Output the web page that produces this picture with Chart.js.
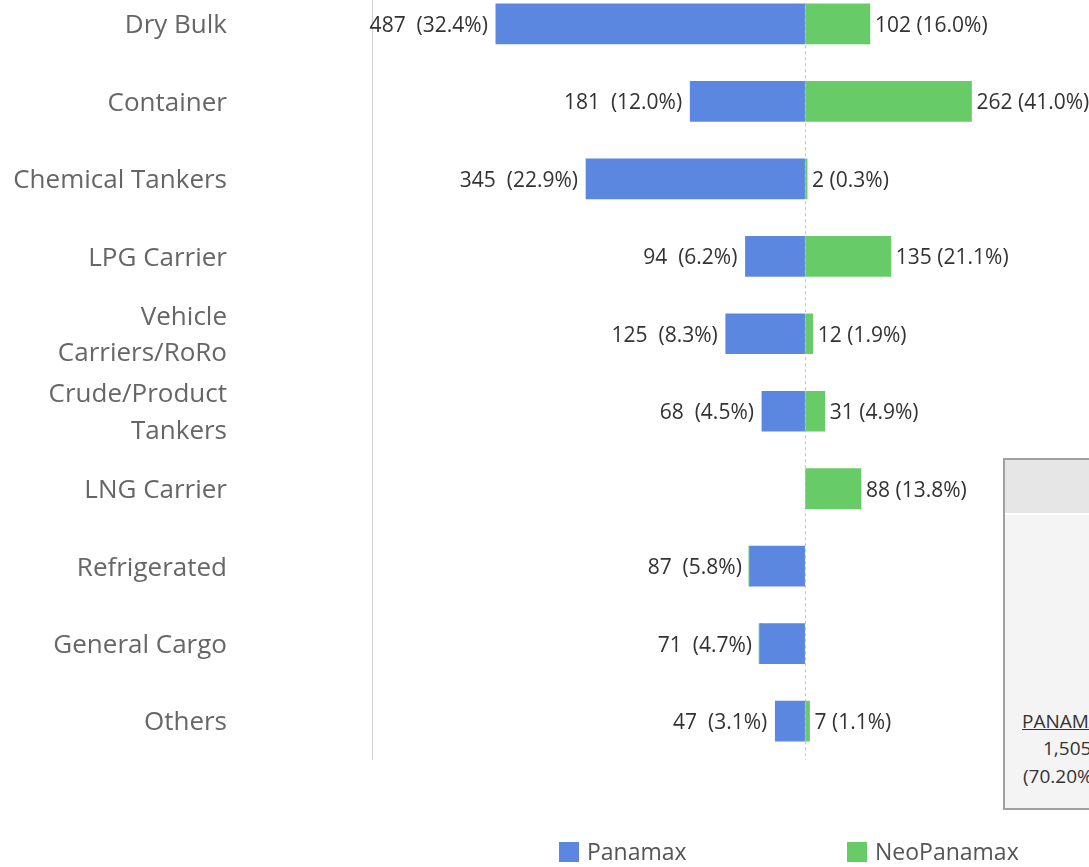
<!DOCTYPE html>
<html>
<head>
<meta charset="utf-8">
<script src="https://cdn.jsdelivr.net/npm/chart.js@4.4.1/dist/chart.umd.min.js"></script>
<style>
  body { margin: 0; width: 1089px; height: 867px; overflow: hidden; background: #fff; position: relative; font-family: "Open Sans", sans-serif; }
  /* the y tick padding is also added above and below the plot, so the canvas is shifted up to compensate */
  #chart { position: absolute; left: 0; top: -178px; }
  .legend { position: absolute; top: 840px; font-size: 23px; color: #555; }
  .legend span.box { position: absolute; top: 2px; width: 20px; height: 20px; }
  .legend span.txt { position: absolute; left: 28px; top: -5px; white-space: nowrap; }
  #panel { position: absolute; left: 1003px; top: 458px; width: 200px; height: 348px; border: 2px solid #a0a0a0; background: #f4f4f4; }
  #panel .head { height: 53px; background: #e6e6e6; border-bottom: 2px solid #fff; }
  #panel div.t { position: absolute; font-size: 19px; color: #333; white-space: nowrap; }
</style>
</head>
<body>
<canvas id="chart" width="1089" height="1101"></canvas>

<div class="legend" style="left:559px"><span class="box" style="background:#5b87e1"></span><span class="txt">Panamax</span></div>
<div class="legend" style="left:847px"><span class="box" style="background:#67cc67"></span><span class="txt">NeoPanamax</span></div>

<div id="panel">
  <div class="head"></div>
  <div class="t" style="left:17px; top:248px; text-decoration: underline;">PANAMAX</div>
  <div class="t" style="left:38px; top:275px;">1,505</div>
  <div class="t" style="left:18px; top:303px;">(70.20%)</div>
</div>

<script>
// categories and values
const categories = ['Dry Bulk', 'Container', 'Chemical Tankers', 'LPG Carrier', ['Vehicle', 'Carriers/RoRo'],
    ['Crude/Product', 'Tankers'], 'LNG Carrier', 'Refrigerated', 'General Cargo', 'Others'];
const panamax = [487, 181, 345, 94, 125, 68, null, 87, 71, 47];
const panamaxPct = [32.4, 12.0, 22.9, 6.2, 8.3, 4.5, null, 5.8, 4.7, 3.1];
const neoPanamax = [102, 262, 2, 135, 12, 31, 88, 0, 0, 7];
const neoPanamaxPct = [16.0, 41.0, 0.3, 21.1, 1.9, 4.9, 13.8, null, null, 1.1];

const blue = '#5b87e1';
const green = '#67cc67';

// Panamax goes to the left, so plot it as negative
const panamaxNeg = panamax.map(v => v === null ? null : -v);

// draws "value (pct%)" next to each bar
const barLabels = {
    id: 'barLabels',
    afterDatasetsDraw(chart) {
        const ctx = chart.ctx;
        ctx.save();
        ctx.font = '21px "Open Sans"';
        ctx.fillStyle = '#333';
        ctx.textBaseline = 'middle';
        chart.getDatasetMeta(0).data.forEach((bar, i) => {
            if (panamaxPct[i] === null) return;
            ctx.textAlign = 'right';
            ctx.fillText(panamax[i] + '  (' + panamaxPct[i].toFixed(1) + '%)', bar.x - 8, bar.y + 2);
        });
        chart.getDatasetMeta(1).data.forEach((bar, i) => {
            if (neoPanamaxPct[i] === null) return;
            ctx.textAlign = 'left';
            ctx.fillText(neoPanamax[i] + ' (' + neoPanamaxPct[i].toFixed(1) + '%)', bar.x + 5, bar.y + 2);
        });
        ctx.restore();
    }
};

const ctx = document.getElementById('chart').getContext('2d');
new Chart(ctx, {
    type: 'bar',
    data: {
        labels: categories,
        datasets: [{
            label: 'Panamax',
            data: panamaxNeg,
            backgroundColor: blue,
            barThickness: 40
        }, {
            label: 'NeoPanamax',
            data: neoPanamax,
            backgroundColor: green,
            barThickness: 40,
            minBarLength: 2
        }]
    },
    options: {
        indexAxis: 'y',
        responsive: false,
        animation: false,
        layout: { padding: 0 },
        scales: {
            x: {
                stacked: true,
                min: -682,
                max: 447,
                ticks: { display: false, stepSize: 100 },
                grid: {
                    drawTicks: false,
                    color: c => (c.tick && c.tick.value === 0) ? '#c4c4c4' : 'rgba(0,0,0,0)'
                },
                border: { display: false, dash: [3, 3] },
                afterFit: scale => { scale.height = 0; }
            },
            y: {
                stacked: true,
                ticks: {
                    padding: 145,
                    labelOffset: 2,
                    color: '#666',
                    font: { family: 'Open Sans', size: 26, lineHeight: 1.4 }
                },
                grid: { drawOnChartArea: false, drawTicks: false },
                border: { display: true, color: '#d0d0d0', dash: [2, 2] },
                afterFit: scale => { scale.width = 372; }
            }
        },
        plugins: {
            legend: { display: false },
            tooltip: { enabled: false }
        }
    },
    plugins: [barLabels]
});
</script>
</body>
</html>
